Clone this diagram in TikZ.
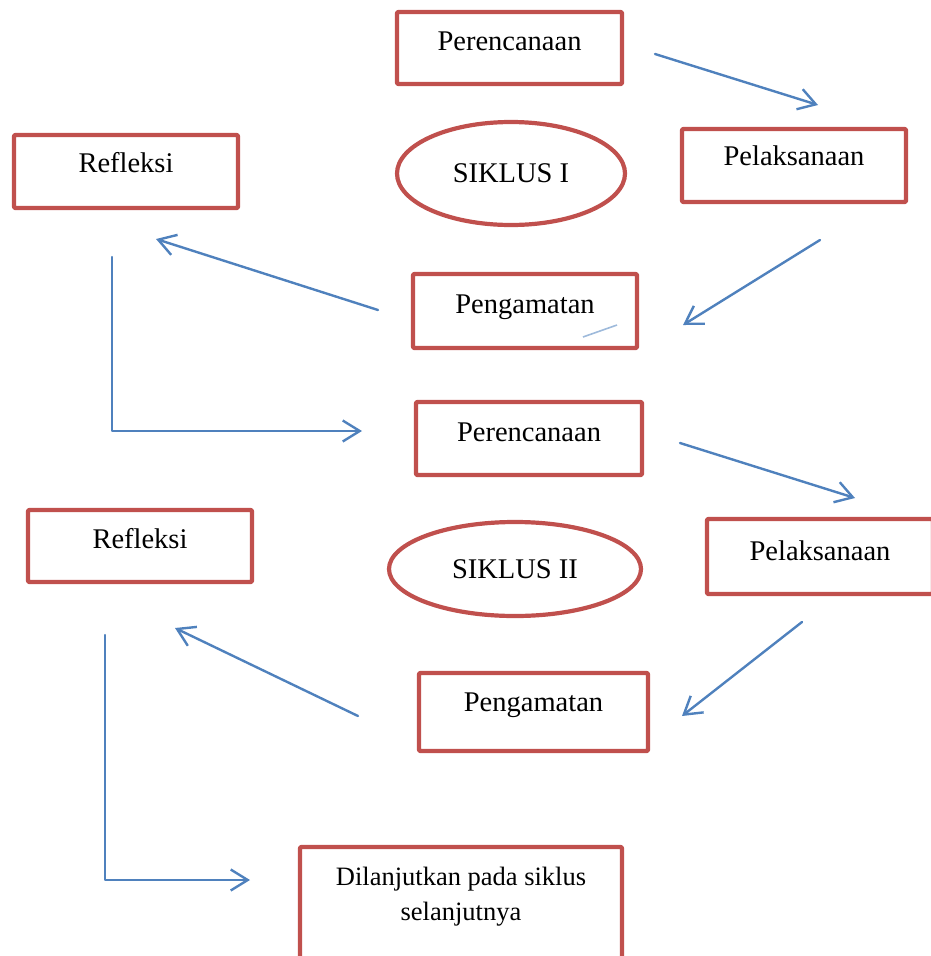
\documentclass[tikz,border=0pt]{standalone}
\usepackage{fontspec}
\setmainfont{Liberation Serif}
\usetikzlibrary{shapes.geometric,arrows.meta}
\definecolor{boxred}{RGB}{192,80,77}
\definecolor{arrblue}{RGB}{79,129,189}
\tikzset{
  box/.style={draw=boxred, line width=4.2pt, line join=round, rounded corners=1pt,
    inner xsep=0pt, inner ysep=0pt, anchor=base, font=\fontsize{28.5}{34}\selectfont},
  ellip/.style={ellipse, draw=boxred, line width=4.2pt, inner sep=0pt,
    font=\fontsize{28.5}{34}\selectfont},
  flow/.style={draw=arrblue, line width=2.4pt, line cap=round, line join=round,
    -{Straight Barb[length=17pt,width=21pt]}}
}
\begin{document}
\begin{tikzpicture}[x=1pt,y=-1pt]
\useasboundingbox (0,0) rectangle (931,956);
% boxes
\node[box, minimum width=225pt, text height=38pt, text depth=34pt] (p1) at (509.5,50) {Perencanaan};
\node[box, minimum width=224pt, text height=36pt, text depth=37pt] (l1) at (794,165) {Pelaksanaan};
\node[box, minimum width=224pt, text height=37pt, text depth=36pt] (r1) at (126,172) {Refleksi};
\node[box, minimum width=224pt, text height=39pt, text depth=35pt] (g1) at (525,313) {Pengamatan};
\node[box, minimum width=226pt, text height=39pt, text depth=34pt] (p2) at (529,441) {Perencanaan};
\node[box, minimum width=226pt, text height=41pt, text depth=34pt] (l2) at (820,560) {Pelaksanaan};
\node[box, minimum width=224pt, text height=38pt, text depth=34pt] (r2) at (140,548) {Refleksi};
\node[box, minimum width=229pt, text height=38pt, text depth=40pt] (g2) at (533.5,711) {Pengamatan};
\node[box, minimum width=322pt, text height=38pt, text depth=79pt, font=\fontsize{26.5}{35}\selectfont] (d) at (461,885)
  {\begin{tabular}[t]{@{}c@{}}Dilanjutkan pada siklus\\selanjutnya\end{tabular}};
% ellipses
\node[ellip, minimum width=228pt, minimum height=103pt] (s1) at (511,173.5) {SIKLUS I};
\node[ellip, minimum width=252pt, minimum height=94pt] (s2) at (515,569) {SIKLUS II};
% connector end points
\coordinate (a1s) at (655,54);   \coordinate (a1e) at (818,105);
\coordinate (a2s) at (820,240);  \coordinate (a2e) at (683,325);
\coordinate (a3s) at (378,310);  \coordinate (a3e) at (156,239);
\coordinate (a4s) at (112,257);  \coordinate (a4c) at (112,431); \coordinate (a4e) at (362,431);
\coordinate (a5s) at (680,443);  \coordinate (a5e) at (855,498);
\coordinate (a6s) at (802,622);  \coordinate (a6e) at (682,716);
\coordinate (a7s) at (358,716);  \coordinate (a7e) at (175,628);
\coordinate (a8s) at (105,635);  \coordinate (a8c) at (105,880); \coordinate (a8e) at (250,880);
\coordinate (ts) at (583,337);   \coordinate (te) at (617,325);
% connectors
\draw[flow] (a1s) -- (a1e);
\draw[flow] (a2s) -- (a2e);
\draw[flow] (a3s) -- (a3e);
\draw[flow] (a4s) -- (a4c) -- (a4e);
\draw[flow] (a5s) -- (a5e);
\draw[flow] (a6s) -- (a6e);
\draw[flow] (a7s) -- (a7e);
\draw[flow] (a8s) -- (a8c) -- (a8e);
\draw[arrblue!55, line width=1.6pt] (ts) -- (te);
\end{tikzpicture}
\end{document}
